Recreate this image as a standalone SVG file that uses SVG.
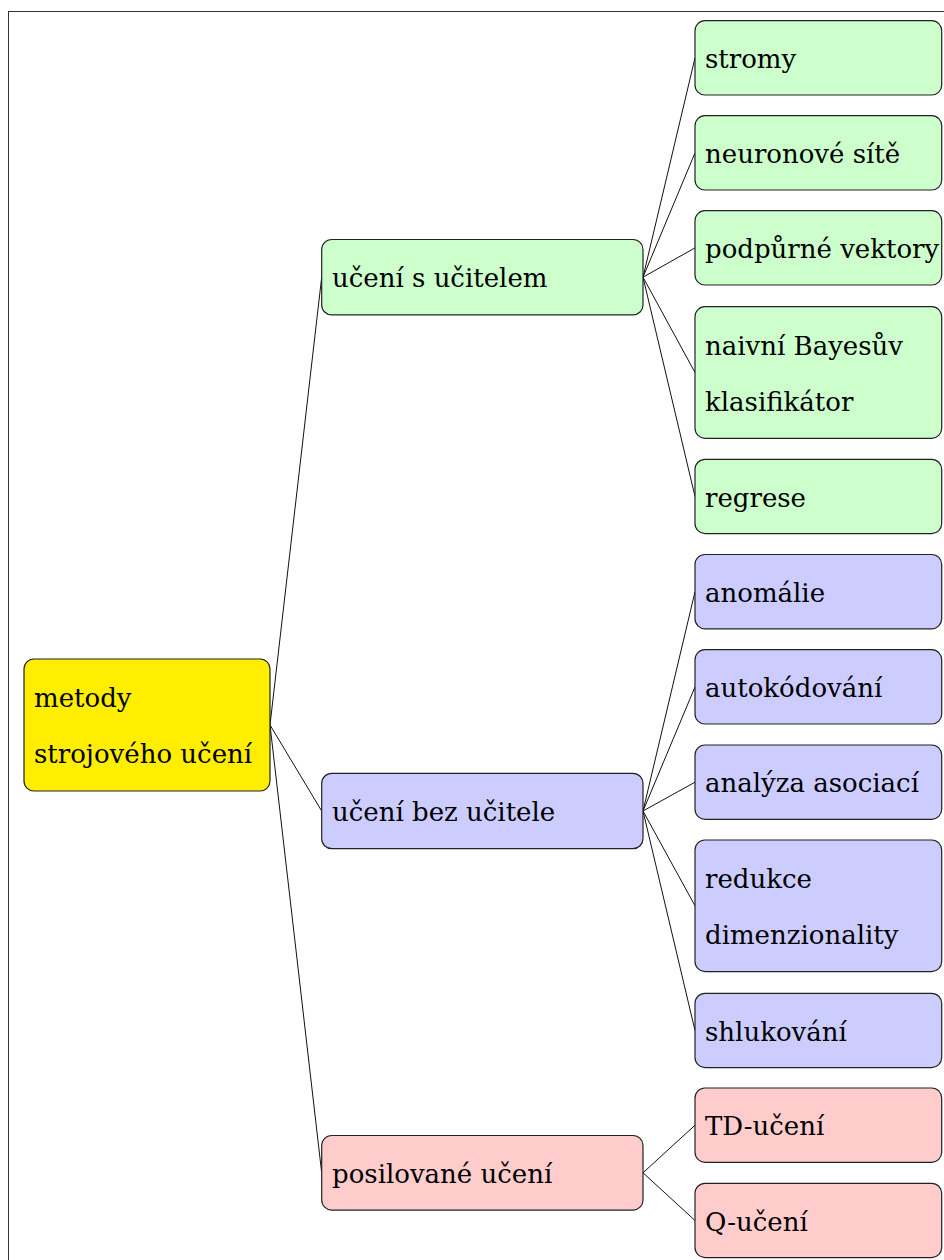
<svg xmlns="http://www.w3.org/2000/svg" width="944" height="1260" viewBox="0 0 944 1260">
<style>
.bx{stroke:#222;stroke-width:1.2}
.g{fill:#ccffcc}.b{fill:#ccccff}.p{fill:#ffcccc}.y{fill:#ffee00}
text{font-family:"DejaVu Serif","Liberation Serif",serif;font-size:26px;fill:#000}
.c line{stroke:#111;stroke-width:1}
</style>
<rect width="944" height="1260" fill="#fff"/>
<rect x="8.5" y="11.5" width="1000" height="1300" fill="none" stroke="#333" stroke-width="1"/>
<g class="c" id="connectors">
<line x1="270" y1="725" x2="321.7" y2="277.2"/>
<line x1="270" y1="725" x2="321.7" y2="811"/>
<line x1="270" y1="725" x2="321.7" y2="1172.8"/>
<line x1="643" y1="277.2" x2="695" y2="57.9"/>
<line x1="643" y1="277.2" x2="695" y2="152.9"/>
<line x1="643" y1="277.2" x2="695" y2="247.9"/>
<line x1="643" y1="277.2" x2="695" y2="372.5"/>
<line x1="643" y1="277.2" x2="695" y2="496.5"/>
<line x1="643" y1="811" x2="695" y2="591.7"/>
<line x1="643" y1="811" x2="695" y2="686.9"/>
<line x1="643" y1="811" x2="695" y2="782.2"/>
<line x1="643" y1="811" x2="695" y2="905.8"/>
<line x1="643" y1="811" x2="695" y2="1030.5"/>
<line x1="643" y1="1172.8" x2="695" y2="1125.2"/>
<line x1="643" y1="1172.8" x2="695" y2="1220.5"/>
</g>
<g id="root"><rect class="bx y" x="24" y="659" width="246" height="132" rx="10"/><text x="34" y="707">metody</text><text x="34" y="763">strojového učení</text></g>
<g id="supervised"><rect class="bx g" x="321.7" y="239.5" width="321.3" height="75.4" rx="10"/><text x="332" y="287">učení s učitelem</text></g>
<g id="unsupervised"><rect class="bx b" x="321.7" y="773.3" width="321.3" height="75.4" rx="10"/><text x="332" y="821">učení bez učitele</text></g>
<g id="reinforcement"><rect class="bx p" x="321.7" y="1135.5" width="321.3" height="74.6" rx="10"/><text x="332" y="1183">posilované učení</text></g>
<g id="stromy"><rect class="bx g" x="695" y="20.7" width="246.7" height="74.3" rx="10"/><text x="705" y="68">stromy</text></g>
<g id="neuronove"><rect class="bx g" x="695" y="115.7" width="246.7" height="74.3" rx="10"/><text x="705" y="163">neuronové sítě</text></g>
<g id="podpurne"><rect class="bx g" x="695" y="210.7" width="246.7" height="74.3" rx="10"/><text x="705" y="258">podpůrné vektory</text></g>
<g id="bayes"><rect class="bx g" x="695" y="306.7" width="246.7" height="131.6" rx="10"/><text x="705" y="355">naivní Bayesův</text><text x="705" y="411">klasifikátor</text></g>
<g id="regrese"><rect class="bx g" x="695" y="459.3" width="246.7" height="74.3" rx="10"/><text x="705" y="507">regrese</text></g>
<g id="anomalie"><rect class="bx b" x="695" y="554.5" width="246.7" height="74.3" rx="10"/><text x="705" y="602">anomálie</text></g>
<g id="autokodovani"><rect class="bx b" x="695" y="649.7" width="246.7" height="74.3" rx="10"/><text x="705" y="697">autokódování</text></g>
<g id="asociace"><rect class="bx b" x="695" y="745" width="246.7" height="74.3" rx="10"/><text x="705" y="792">analýza asociací</text></g>
<g id="redukce"><rect class="bx b" x="695" y="840" width="246.7" height="131.6" rx="10"/><text x="705" y="888">redukce</text><text x="705" y="944">dimenzionality</text></g>
<g id="shlukovani"><rect class="bx b" x="695" y="993.3" width="246.7" height="74.3" rx="10"/><text x="705" y="1041">shlukování</text></g>
<g id="td"><rect class="bx p" x="695" y="1088" width="246.7" height="74.3" rx="10"/><text x="705" y="1135">TD-učení</text></g>
<g id="q"><rect class="bx p" x="695" y="1183.3" width="246.7" height="74.3" rx="10"/><text x="705" y="1231">Q-učení</text></g>
</svg>
